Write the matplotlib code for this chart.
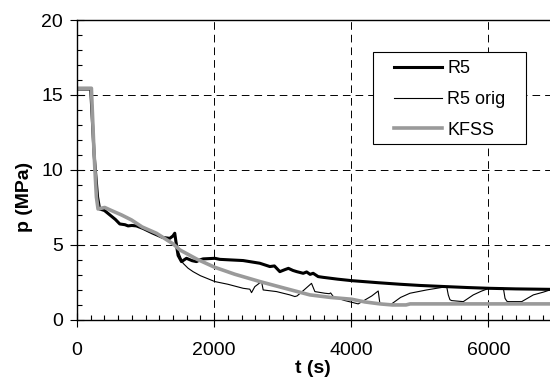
import numpy as np
import matplotlib.pyplot as plt
from matplotlib.ticker import MultipleLocator
from matplotlib.patches import Rectangle

plt.rcParams['font.family'] = ['Liberation Sans', 'DejaVu Sans']
plt.rcParams['lines.scale_dashes'] = False

# R5 (thick black)
t_r5 = [0, 200, 250, 300, 330, 400, 480, 560, 624, 700, 745, 800, 867, 964, 1100,
        1250, 1353, 1400, 1426, 1450, 1475, 1524, 1597, 1680, 1743, 1790, 1840, 2010,
        2083, 2250, 2423, 2667, 2813, 2880, 2959, 3030, 3084, 3150, 3206, 3300, 3350,
        3400, 3445, 3518, 3592, 3800, 4006, 4400, 4711, 5000, 5393, 5700, 6010, 6400, 6900]
p_r5 = [15.4, 15.4, 11.0, 8.2, 7.4, 7.3, 7.0, 6.7, 6.4, 6.35, 6.27, 6.3, 6.27, 6.1, 5.8,
        5.5, 5.44, 5.6, 5.78, 5.0, 4.3, 3.89, 4.11, 3.95, 3.89, 4.0, 4.07, 4.11,
        4.04, 4.0, 3.96, 3.78, 3.56, 3.6, 3.22, 3.35, 3.44, 3.3, 3.22, 3.11, 3.2,
        3.04, 3.11, 2.89, 2.84, 2.72, 2.62, 2.48, 2.38, 2.3, 2.22, 2.16, 2.11, 2.07, 2.04]

# R5 orig (thin black)
t_orig = [0, 200, 250, 300, 330, 400, 480, 560, 624, 700, 745, 800, 867, 964, 1100,
          1250, 1353, 1400, 1426, 1475, 1547, 1620, 1693, 1800, 2010, 2200, 2424, 2521,
          2546, 2594, 2692, 2716, 2911, 3105, 3178, 3210, 3300, 3421, 3470, 3616, 3680,
          3700, 3740, 3900, 4102, 4200, 4300, 4394, 4419, 4590, 4720, 4857, 5100, 5393,
          5416, 5440, 5465, 5635, 5781, 5900, 6010, 6220, 6244, 6270, 6292, 6487, 6657,
          6800, 6900]
p_orig = [15.4, 15.4, 11.0, 8.2, 7.4, 7.3, 7.0, 6.7, 6.4, 6.35, 6.27, 6.3, 6.27, 6.1, 5.8,
          5.5, 5.44, 5.6, 5.78, 4.6, 3.78, 3.45, 3.22, 2.95, 2.56, 2.38, 2.11, 2.05,
          1.82, 2.22, 2.56, 2.0, 1.89, 1.67, 1.56, 1.6, 1.95, 2.44, 1.89, 1.78, 1.75,
          1.8, 1.55, 1.3, 1.07, 1.33, 1.6, 1.93, 1.07, 1.07, 1.5, 1.78, 2.0, 2.22,
          1.67, 1.35, 1.29, 1.22, 1.67, 1.92, 2.11, 2.11, 1.44, 1.25, 1.22, 1.22, 1.67,
          1.85, 2.0]

# KFSS (grey)
t_kfss = [0, 210, 250, 283, 307, 404, 500, 650, 794, 950, 1159, 1402, 1500, 1750, 2010,
          2300, 2667, 3000, 3397, 3700, 4006, 4200, 4419, 4600, 4800, 4860, 6900]
p_kfss = [15.45, 15.45, 11.0, 8.2, 7.4, 7.5, 7.3, 7.0, 6.67, 6.2, 5.78, 5.07, 4.67, 4.05, 3.51,
          3.05, 2.56, 2.15, 1.67, 1.5, 1.38, 1.2, 1.07, 1.0, 1.0, 1.07, 1.07]

fig = plt.figure(figsize=(5.5, 3.85), dpi=100)
ax = fig.add_axes([0.14, 0.169, 0.86, 0.779])

ax.plot(t_r5, p_r5, color='black', lw=2.2, label='R5')
ax.plot(t_orig, p_orig, color='black', lw=0.8, label='R5 orig')
ax.plot(t_kfss, p_kfss, color='#9a9a9a', lw=2.6, label='KFSS')

ax.set_xlim(0, 6900)
ax.set_ylim(0, 20)
ax.xaxis.set_major_locator(MultipleLocator(2000))
ax.xaxis.set_minor_locator(MultipleLocator(200))
ax.yaxis.set_major_locator(MultipleLocator(5))
ax.yaxis.set_minor_locator(MultipleLocator(1))
ax.tick_params(which='major', direction='inout', length=10, width=0.8, labelsize=14)
ax.tick_params(axis='x', which='major', pad=11)
ax.tick_params(axis='y', which='major', pad=5)
ax.tick_params(which='minor', direction='in', length=3.6, width=0.8)
ax.spines['right'].set_visible(False)
for s in ['left', 'bottom', 'top']:
    ax.spines[s].set_linewidth(1.0)

ax.grid(True, which='major', color='black', lw=0.7, linestyle=(0, (5.5, 3.6)))

ax.set_xlabel('t (s)', fontsize=14, fontweight='bold')
ax.set_ylabel('p (MPa)', fontsize=14, fontweight='bold')
ax.xaxis.set_label_coords(0.499, -0.135)
ax.yaxis.set_label_coords(-0.092, 0.41)

# legend: box drawn separately, entries placed inside it
ax.add_patch(Rectangle((0.625, 0.587), 0.324, 0.307, transform=ax.transAxes,
                       facecolor='white', edgecolor='black', lw=0.8, zorder=4))
leg = ax.legend(loc='upper left', bbox_to_anchor=(0.671, 0.866), fontsize=13,
                frameon=False, handlelength=2.66, handletextpad=0.28,
                labelspacing=0.76, borderpad=0, borderaxespad=0)
leg.set_zorder(5)

fig.savefig('out.png', dpi=100)
